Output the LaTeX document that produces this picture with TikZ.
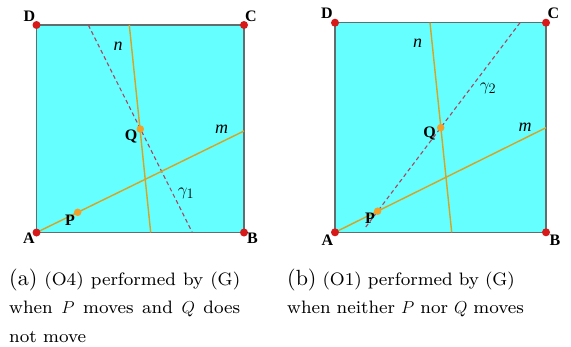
\documentclass[tikz,border=0pt]{standalone}
\usepackage{fontspec}
\usepackage{amsmath}
\usetikzlibrary{calc}
\newfontfamily\labfont{Liberation Serif}
\newfontfamily\capfont{lmroman8-regular.otf}[ItalicFont=lmroman8-italic.otf]
\newfontfamily\sublabfont{lmroman10-regular.otf}
\definecolor{sqfill}{RGB}{102,255,255}
\definecolor{sqedge}{RGB}{95,110,110}
\definecolor{gold}{RGB}{215,163,35}
\definecolor{crease}{RGB}{170,70,95}
\definecolor{cornerred}{RGB}{215,25,25}
\definecolor{dotorange}{RGB}{242,160,40}
\tikzset{
  sq/.style={draw=sqedge,line width=1.5pt,fill=sqfill},
  foldline/.style={draw=gold,line width=1.4pt},
  creaseline/.style={draw=crease,line width=1.1pt,dash pattern=on 4pt off 3pt},
  corner/.style={circle,fill=cornerred,inner sep=0pt,minimum size=8pt},
  movept/.style={circle,fill=dotorange,inner sep=0pt,minimum size=7.5pt},
  vlab/.style={font=\labfont\bfseries\fontsize{16}{16}\selectfont,inner sep=0pt},
  llab/.style={font=\labfont\itshape\fontsize{18}{18}\selectfont,inner sep=0pt},
  glab/.style={font=\fontsize{19}{19}\selectfont,inner sep=0pt},
  capbox/.style={anchor=north west,inner sep=0pt,
    font=\capfont\fontsize{18}{28.5}\selectfont},
}
\newcommand{\sublab}[1]{{\sublabfont\fontsize{22}{28.5}\selectfont(#1)}}
\begin{document}
\begin{tikzpicture}[x=1pt,y=-1pt]
  \useasboundingbox (0,0) rectangle (571,346);
  % (a)
  \coordinate (A1) at (36.5,232.5);
  \coordinate (B1) at (244,232.5);
  \coordinate (C1) at (244,25);
  \coordinate (D1) at (36.5,25);
  \coordinate (nt1) at (129.3,25);
  \coordinate (nb1) at (150.7,232.5);
  \coordinate (me1) at (244,131);
  \coordinate (gt1) at (88.3,25);
  \coordinate (gb1) at (192.3,232.5);
  \path[sq] (A1) rectangle (C1);
  \draw[creaseline] (gt1) -- (gb1);
  \draw[foldline] (nt1) -- (nb1);
  \draw[foldline] (A1) -- (me1);
  \node[corner] (cA1) at (A1) {};
  \node[corner] (cB1) at (B1) {};
  \node[corner] (cC1) at (C1) {};
  \node[corner] (cD1) at (D1) {};
  \node[movept] (P1) at (77.7,212.3) {};
  \node[movept] (Q1) at (140.3,129) {};
  \node[vlab] at (29,238.5) {A};
  \node[vlab] at (252.5,238.5) {B};
  \node[vlab] at (251,16.5) {C};
  \node[vlab] at (29.5,16.5) {D};
  \node[vlab] at (70,220) {P};
  \node[vlab] at (131,136.5) {Q};
  \node[llab] at (118,46) {n};
  \node[llab] at (221.5,129) {m};
  \node[glab] at (186,193) {$\gamma_1$};
  % (b)
  \coordinate (A2) at (335,232.3);
  \coordinate (B2) at (546,232.3);
  \coordinate (C2) at (546,22.7);
  \coordinate (D2) at (335,22.7);
  \coordinate (nt2) at (430,22.7);
  \coordinate (nb2) at (451.7,232.3);
  \coordinate (me2) at (546,127.7);
  \coordinate (gt2) at (520,22.7);
  \coordinate (gb2) at (365,228);
  \path[sq] (A2) rectangle (C2);
  \draw[creaseline] (gt2) -- (gb2);
  \draw[foldline] (nt2) -- (nb2);
  \draw[foldline] (A2) -- (me2);
  \node[corner] (cA2) at (A2) {};
  \node[corner] (cB2) at (B2) {};
  \node[corner] (cC2) at (C2) {};
  \node[corner] (cD2) at (D2) {};
  \node[movept] (P2) at (377.6,211.2) {};
  \node[movept] (Q2) at (440.7,127.7) {};
  \node[vlab] at (327.5,240.5) {A};
  \node[vlab] at (555,240.5) {B};
  \node[vlab] at (553.5,13.5) {C};
  \node[vlab] at (327,13.5) {D};
  \node[vlab] at (370,218.5) {P};
  \node[vlab] at (429.5,133.5) {Q};
  \node[llab] at (417.5,43) {n};
  \node[llab] at (525,127) {m};
  \node[glab] at (488,88) {$\gamma_2$};
  % captions
  \node[capbox,text width=231pt,align=justify] (capa) at (9,268.5)
    {\sublab{a} (O4) performed by (G) when $P$ moves and $Q$ does not move};
  \node[capbox,text width=260pt,align=left] (capb) at (287,268.5)
    {\sublab{b} (O1) performed by (G)\\ when neither $P$ nor $Q$ moves};
\end{tikzpicture}
\end{document}
